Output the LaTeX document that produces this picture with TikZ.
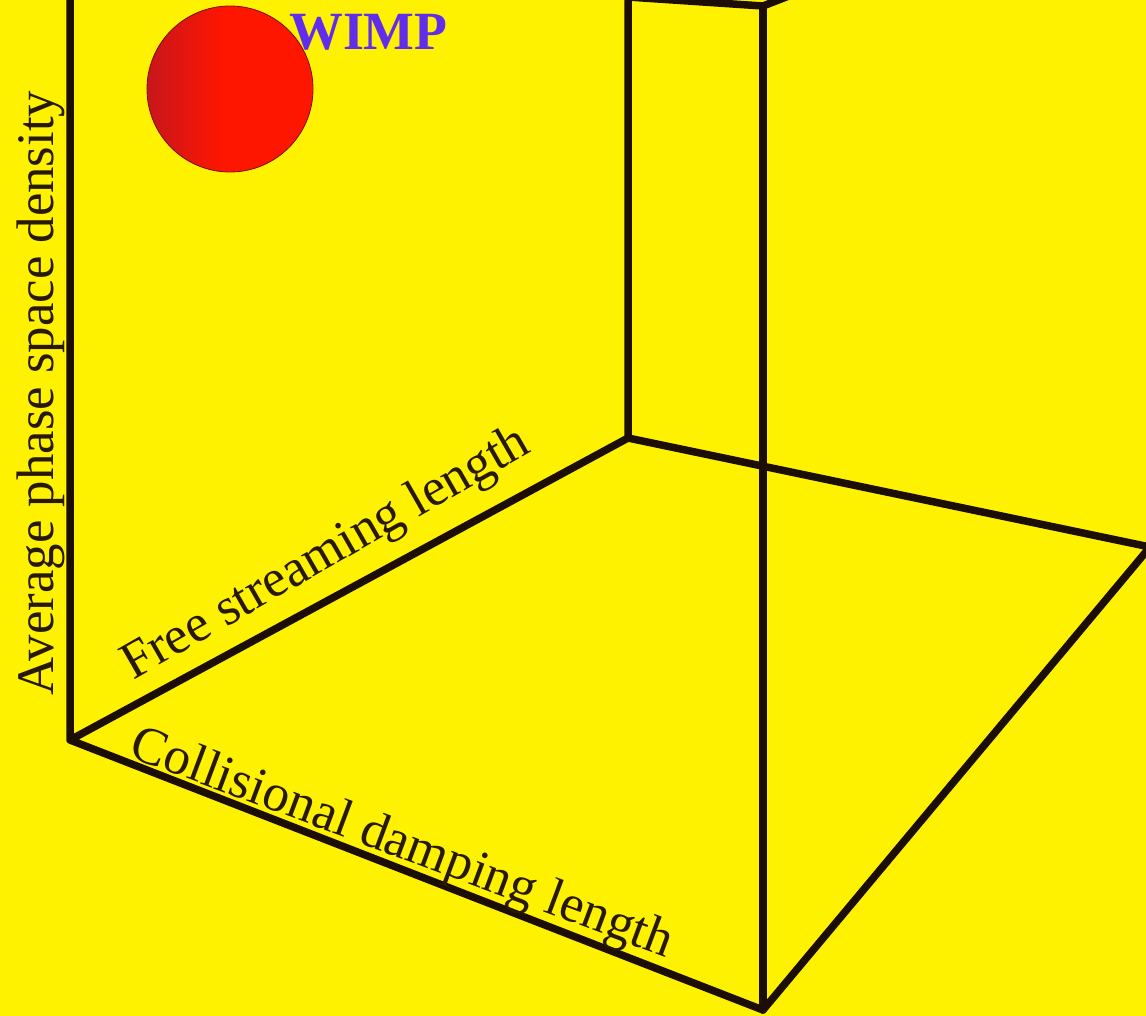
\documentclass[tikz,border=0pt]{standalone}
\usepackage{fontspec}
\setmainfont{Liberation Serif}
\definecolor{bgyellow}{RGB}{255,242,0}
\definecolor{edgecol}{RGB}{28,14,4}
\definecolor{ballred}{RGB}{255,22,0}
\definecolor{balldark}{RGB}{200,22,28}
\definecolor{wimpblue}{RGB}{95,45,235}
\definecolor{labelcol}{RGB}{40,25,5}
\pgfdeclarehorizontalshading{ballshade}{100bp}{color(0bp)=(balldark); color(25bp)=(balldark); color(48bp)=(ballred); color(100bp)=(ballred)}
\tikzset{
  edge/.style={draw=edgecol, line width=7.5bp, line cap=round, line join=round},
  axislabel/.style={font=\fontsize{53}{60}\selectfont, text=labelcol, inner sep=0pt, anchor=base},
}
\begin{document}
\begin{tikzpicture}[x=1bp,y=-1bp]
\useasboundingbox (0,0) rectangle (1146,1016);
\fill[bgyellow] (0,0) rectangle (1146,1016);
\begin{scope}
\clip (0,0) rectangle (1146,1016);
% cube corners
\coordinate (O) at (70,740);
\coordinate (B) at (628,438);
\coordinate (F) at (763,1010);
\coordinate (R) at (1150,547);
\coordinate (OT) at (70,-20);
\coordinate (BT) at (628,-3);
\coordinate (FT) at (763,6);
\coordinate (RT) at (830,-20);
\draw[edge] (OT) -- (O) -- (F) -- (R) -- (B) -- (O);
\draw[edge] (B) -- (BT) -- (FT) -- (RT);
\draw[edge] (FT) -- (F);
\end{scope}
% WIMP ball
\node[circle, minimum size=166bp, inner sep=0pt, shading=ballshade, draw=balldark!60!black, line width=0.8bp] (ball) at (230,89) {};
\node[font=\fontsize{54}{60}\selectfont\bfseries, text=wimpblue, inner sep=0pt, anchor=base west] (wimp) at (289,49) {WIMP};
% axis labels
\node[axislabel, rotate=90] (dens) at (53,393) {Average phase space density};
\node[axislabel, rotate=29.8] (fs) at (333,566) {Free streaming length};
\node[axislabel, rotate=-20.5] (cd) at (397,857) {Collisional damping length};
\end{tikzpicture}
\end{document}
